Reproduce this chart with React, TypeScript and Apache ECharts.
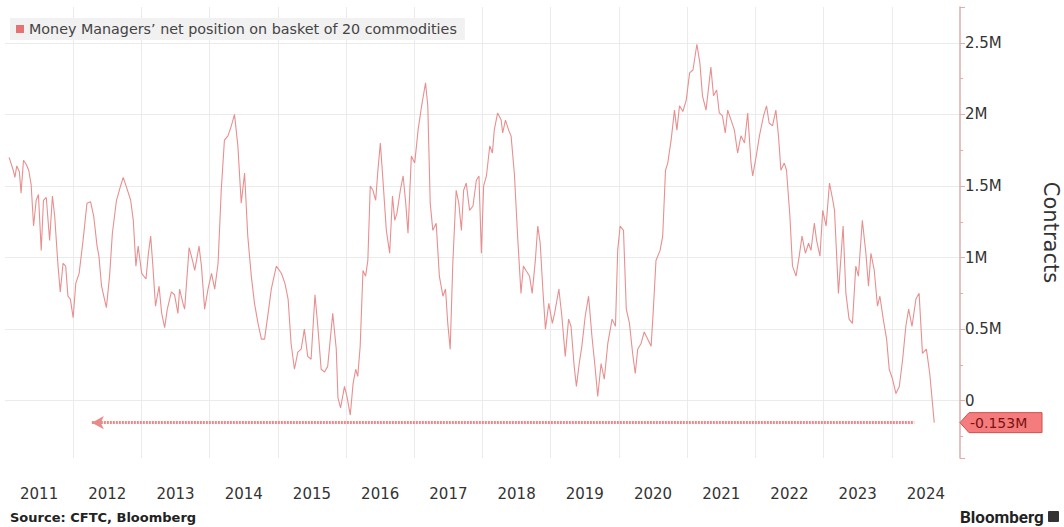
import React, { useEffect, useRef } from "react";
import * as echarts from "echarts";

const seriesName = "Money Managers\u2019 net position on basket of 20 commodities";
const yearLabels = ["2011","2012","2013","2014","2015","2016","2017","2018","2019","2020","2021","2022","2023","2024"];
const latestValue = -0.153;
const arrowStart = "2012-04-10";
const arrowEnd = "2024-05-01";

const dates = [
"2011-01-23","2011-02-14","2011-02-23","2011-03-05","2011-03-19","2011-03-28","2011-04-10","2011-04-25","2011-05-08","2011-05-21",
"2011-06-03","2011-06-17","2011-06-29","2011-07-14","2011-07-26","2011-08-10","2011-08-28","2011-09-12","2011-09-24","2011-10-12",
"2011-10-24","2011-11-08","2011-11-22","2011-12-04","2011-12-17","2012-01-01","2012-01-15","2012-02-02","2012-02-23","2012-03-15",
"2012-04-03","2012-04-20","2012-05-08","2012-05-18","2012-06-01","2012-06-13","2012-06-27","2012-07-14","2012-07-29","2012-08-20",
"2012-09-11","2012-09-25","2012-10-13","2012-11-04","2012-11-18","2012-12-02","2012-12-14","2013-01-02","2013-01-25","2013-02-07",
"2013-02-19","2013-03-03","2013-03-17","2013-04-05","2013-04-19","2013-05-05","2013-05-19","2013-06-10","2013-06-27","2013-07-15",
"2013-07-24","2013-08-11","2013-08-20","2013-09-13","2013-10-01","2013-10-13","2013-11-05","2013-11-18","2013-12-05","2013-12-23",
"2014-01-11","2014-01-28","2014-02-15","2014-03-04","2014-03-21","2014-04-09","2014-04-27","2014-05-14","2014-06-01","2014-06-19",
"2014-07-07","2014-07-24","2014-08-12","2014-08-29","2014-09-17","2014-10-05","2014-10-22","2014-11-10","2014-11-27","2014-12-24",
"2015-01-20","2015-02-08","2015-02-25","2015-03-13","2015-03-31","2015-04-18","2015-05-06","2015-05-23","2015-06-10","2015-06-28",
"2015-07-19","2015-08-03","2015-08-21","2015-09-08","2015-09-25","2015-10-22","2015-11-10","2015-11-19","2015-12-03","2015-12-24",
"2016-01-06","2016-01-24","2016-02-08","2016-02-22","2016-03-04","2016-03-17","2016-04-01","2016-04-15","2016-04-27","2016-05-10",
"2016-05-24","2016-06-08","2016-06-20","2016-07-03","2016-07-17","2016-08-04","2016-08-22","2016-09-06","2016-09-18","2016-09-30",
"2016-10-18","2016-11-02","2016-11-16","2016-11-28","2016-12-16","2017-01-03","2017-01-21","2017-02-09","2017-03-02","2017-03-14",
"2017-03-27","2017-04-10","2017-04-28","2017-05-15","2017-06-03","2017-06-17","2017-06-29","2017-07-12","2017-07-26","2017-08-13",
"2017-08-27","2017-09-10","2017-09-22","2017-10-06","2017-10-24","2017-11-11","2017-11-29","2017-12-13","2017-12-26","2018-01-07",
"2018-01-22","2018-02-09","2018-02-23","2018-03-05","2018-03-23","2018-04-11","2018-04-19","2018-05-04","2018-05-21","2018-06-03",
"2018-06-21","2018-07-08","2018-07-26","2018-08-08","2018-08-22","2018-09-10","2018-09-24","2018-10-11","2018-10-24","2018-11-06",
"2018-11-20","2018-12-04","2018-12-22","2019-01-10","2019-01-22","2019-02-14","2019-03-02","2019-03-20","2019-04-07","2019-04-20",
"2019-05-07","2019-05-19","2019-06-03","2019-06-17","2019-07-05","2019-07-23","2019-08-10","2019-08-28","2019-09-10","2019-09-28",
"2019-10-15","2019-11-03","2019-11-26","2019-12-14","2019-12-26","2020-01-08","2020-01-26","2020-02-10","2020-02-27","2020-03-15",
"2020-03-29","2020-04-11","2020-04-29","2020-05-16","2020-06-04","2020-06-22","2020-07-04","2020-07-18","2020-08-09","2020-08-23",
"2020-09-07","2020-09-19","2020-10-07","2020-10-25","2020-11-07","2020-11-21","2020-12-09","2020-12-27","2021-01-14","2021-02-01",
"2021-02-22","2021-03-10","2021-03-24","2021-04-12","2021-04-26","2021-05-08","2021-05-22","2021-06-08","2021-06-22","2021-07-09",
"2021-07-24","2021-08-06","2021-08-24","2021-09-11","2021-09-28","2021-10-16","2021-11-04","2021-11-21","2021-12-09","2021-12-18",
"2022-01-06","2022-01-23","2022-02-14","2022-03-02","2022-03-16","2022-04-03","2022-04-21","2022-05-05","2022-05-18","2022-06-05",
"2022-06-17","2022-07-05","2022-07-19","2022-08-07","2022-08-24","2022-09-08","2022-09-26","2022-10-13","2022-10-26","2022-11-13",
"2022-11-25","2022-12-13","2022-12-28","2023-01-15","2023-02-02","2023-02-20","2023-03-01","2023-03-22","2023-04-16","2023-05-01",
"2023-05-18","2023-06-05","2023-06-23","2023-07-07","2023-07-28","2023-08-16","2023-08-30","2023-09-12","2023-09-30","2023-10-17",
"2023-10-30","2023-11-17","2023-12-05","2023-12-19","2024-01-06","2024-01-24","2024-02-11","2024-02-29","2024-03-17","2024-04-01",
"2024-04-19","2024-05-10","2024-05-27","2024-06-14","2024-07-05","2024-07-23","2024-08-16"
];

const values = [
1.70,1.61,1.56,1.64,1.60,1.45,1.68,1.65,1.61,1.51,
1.22,1.40,1.44,1.05,1.40,1.42,1.12,1.43,1.29,0.94,
0.76,0.96,0.94,0.73,0.71,0.58,0.82,0.89,1.12,1.38,
1.39,1.29,1.08,1.01,0.80,0.73,0.65,0.87,1.17,1.40,
1.50,1.56,1.49,1.40,1.26,0.94,1.08,0.89,0.85,1.03,
1.15,0.94,0.66,0.80,0.61,0.51,0.64,0.76,0.74,0.61,
0.78,0.68,0.64,1.07,0.98,0.91,1.08,0.94,0.64,0.78,
0.89,0.78,0.96,1.47,1.82,1.85,1.92,2.00,1.78,1.38,
1.59,1.15,0.87,0.68,0.54,0.43,0.43,0.61,0.78,0.94,
0.89,0.82,0.71,0.40,0.22,0.34,0.36,0.50,0.31,0.29,
0.74,0.52,0.22,0.20,0.24,0.61,0.36,0.02,-0.05,0.10,
0.03,-0.10,0.12,0.22,0.17,0.38,0.91,0.87,0.98,1.50,
1.47,1.40,1.61,1.80,1.54,1.19,1.03,1.43,1.26,1.31,
1.47,1.57,1.38,1.17,1.71,1.66,1.89,2.06,2.22,2.06,
1.38,1.19,1.24,0.87,0.73,0.78,0.54,0.36,0.96,1.47,
1.38,1.19,1.47,1.52,1.33,1.36,1.54,1.57,1.03,1.50,
1.57,1.78,1.73,1.89,2.01,1.96,1.87,1.96,1.89,1.85,
1.58,1.15,0.75,0.94,0.91,0.87,0.75,0.98,1.22,1.10,
0.78,0.50,0.68,0.54,0.61,0.78,0.59,0.31,0.57,0.52,
0.24,0.10,0.26,0.38,0.59,0.73,0.45,0.22,0.03,0.26,
0.15,0.40,0.57,0.52,1.05,1.22,1.19,0.64,0.54,0.33,
0.19,0.36,0.40,0.48,0.43,0.38,0.64,0.98,1.05,1.15,
1.61,1.66,1.82,2.03,1.89,2.06,2.02,2.10,2.29,2.31,
2.49,2.36,2.13,2.03,2.19,2.33,2.13,2.17,2.01,1.99,
1.87,2.03,1.96,1.89,1.73,1.85,1.80,2.01,1.66,1.57,
1.71,1.85,1.99,2.06,1.94,1.92,2.03,1.85,1.61,1.66,
1.61,1.29,0.94,0.87,1.01,1.15,1.03,1.10,1.05,1.24,
1.12,1.01,1.33,1.22,1.52,1.40,1.33,0.75,1.22,0.75,
0.57,0.54,0.94,0.87,1.26,1.03,0.80,1.03,0.91,0.66,
0.73,0.57,0.43,0.22,0.15,0.05,0.10,0.29,0.52,0.64,
0.52,0.71,0.75,0.33,0.36,0.19,-0.153
];

const FONT = "'DejaVu Sans', sans-serif";
const LINE_COLOR = "#e88f8f";
const AXIS_COLOR = "#dcaeae";
const GRID_COLOR = "#ebebeb";

export default function App() {
  const ref = useRef<HTMLDivElement>(null);

  useEffect(() => {
    if (!ref.current) return;
    const chart = echarts.init(ref.current, null, { renderer: "svg" });
    const data = dates.map((d, i) => [d, values[i]]);

    chart.setOption({
      animation: false,
      backgroundColor: "#ffffff",
      grid: { left: 5, right: 104, top: 7, bottom: 69, containLabel: false, outerBoundsMode: "none" },
      legend: {
        show: true,
        left: 10,
        top: 18,
        data: [seriesName],
        icon: "rect",
        itemWidth: 8,
        itemHeight: 8,
        itemGap: 4,
        backgroundColor: "#f1f1f1",
        padding: [4, 8, 4, 6],
        textStyle: { color: "#444", fontSize: 14.3, fontFamily: FONT },
      },
      xAxis: [
        {
          type: "time",
          min: "2011-01-01",
          max: "2025-01-01",
          axisLine: { show: false },
          axisTick: { show: false },
          axisLabel: { show: false },
          splitLine: { show: false },
        },
        {
          type: "category",
          data: yearLabels,
          position: "bottom",
          offset: 20,
          boundaryGap: true,
          axisLine: { show: false },
          axisTick: { show: false, interval: 0 },
          splitLine: {
            show: true,
            interval: 0,
            showMinLine: false,
            showMaxLine: false,
            lineStyle: { color: GRID_COLOR, width: 1 },
          },
          axisLabel: { color: "#333", fontSize: 15, margin: 8, fontFamily: FONT, interval: 0 },
        },
      ],
      yAxis: {
        type: "value",
        position: "right",
        min: -0.4,
        max: 2.75,
        splitNumber: 6,
        name: "Contracts",
        nameLocation: "middle",
        nameRotate: -90,
        nameGap: 80,
        nameTextStyle: { fontSize: 21, color: "#333", fontFamily: FONT },
        axisLine: { show: true, lineStyle: { color: AXIS_COLOR, width: 1.5 } },
        axisTick: { show: true, length: 5, lineStyle: { color: AXIS_COLOR } },
        minorTick: { show: true, splitNumber: 2, length: 3, lineStyle: { color: AXIS_COLOR } },
        axisLabel: {
          showMinLabel: false,
          showMaxLabel: false,
          color: "#333",
          fontSize: 15,
          margin: 5,
          fontFamily: FONT,
          formatter: (v: number) => (v === 0 ? "0" : `${v}M`),
        },
        splitLine: {
          show: true,
          showMinLine: false,
          showMaxLine: false,
          lineStyle: { color: GRID_COLOR, width: 1 },
        },
      },
      series: [
        {
          type: "line",
          name: seriesName,
          xAxisIndex: 0,
          data,
          showSymbol: false,
          symbol: "none",
          lineStyle: { color: LINE_COLOR, width: 1.1 },
          itemStyle: { color: "#e57373" },
          markLine: {
            silent: true,
            symbol: ["arrow", "none"],
            symbolSize: [10, 12],
            label: { show: false },
            lineStyle: { color: "#e88a8a", width: 3, type: [2, 1] },
            data: [[{ coord: [arrowStart, latestValue] }, { coord: [arrowEnd, latestValue] }]],
          },
        },
      ],
    });

    const y = chart.convertToPixel({ yAxisIndex: 0 }, latestValue) as number;
    const xr = chart.convertToPixel({ xAxisIndex: 0 }, "2025-01-01") as number;

    chart.setOption({
      graphic: [
        {
          type: "polygon",
          shape: {
            points: [
              [xr, y],
              [xr + 9, y - 10],
              [xr + 82, y - 10],
              [xr + 82, y + 10],
              [xr + 9, y + 10],
            ],
          },
          style: { fill: "#f47c7c", stroke: "#cf4f4f", lineWidth: 1 },
          z: 100,
        },
        {
          type: "text",
          x: xr + 10,
          y: y,
          style: {
            text: "-0.153M",
            fill: "#7b1111",
            fontSize: 14,
            fontFamily: FONT,
            verticalAlign: "middle",
            align: "left",
          },
          z: 101,
        },
        {
          type: "text",
          left: 10,
          top: 511,
          style: {
            text: "Source: CFTC, Bloomberg",
            fill: "#222",
            fontSize: 13,
            fontWeight: "bold",
            fontFamily: FONT,
          },
        },
        {
          type: "text",
          left: 960,
          top: 508,
          style: {
            text: "Bloomberg",
            fill: "#222",
            fontSize: 17,
            fontWeight: "bold",
            fontFamily: "Roboto, sans-serif",
          },
        },
        {
          type: "rect",
          left: 1048,
          top: 511,
          shape: { width: 11, height: 11, r: 1 },
          style: { fill: "#333" },
        },
      ],
    });

    return () => chart.dispose();
  }, []);

  return (
    <div
      ref={ref}
      style={{ position: "fixed", left: 0, top: 0, width: 1064, height: 527, background: "#fff" }}
    />
  );
}
